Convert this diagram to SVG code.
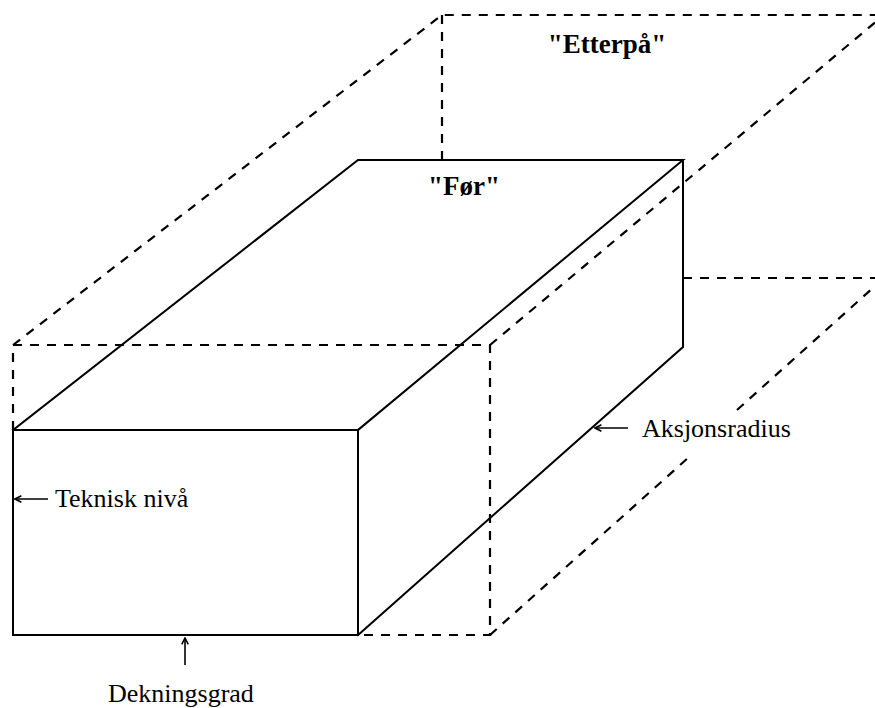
<svg xmlns="http://www.w3.org/2000/svg" width="875" height="708" viewBox="0 0 875 708">
  <defs>
    <style>
      .solid { fill: none; stroke: #000; stroke-width: 2; stroke-linejoin: miter; stroke-linecap: square; }
      .dash { fill: none; stroke: #000; stroke-width: 2.2; stroke-dasharray: 9 8; }
      .arrow { fill: none; stroke: #000; stroke-width: 1.6; marker-end: url(#head); }
      .lbl { font-family: 'Liberation Serif', 'DejaVu Serif', 'Times New Roman', serif; font-size: 26px; fill: #000; }
      .title { font-family: 'Liberation Serif', 'DejaVu Serif', 'Times New Roman', serif; font-size: 27px; font-weight: bold; fill: #000; text-anchor: middle; }
    </style>
    <marker id="head" viewBox="0 0 10 10" refX="9" refY="5" markerWidth="8" markerHeight="8" markerUnits="userSpaceOnUse" orient="auto">
      <path d="M1,1 L9,5 L1,9" fill="none" stroke="#000" stroke-width="2"/>
    </marker>
  </defs>
  <rect width="875" height="708" fill="#fff"/>

  <g id="box-etterpa">
    <path class="dash" d="M13,430 L13,345 L490,345 L490,635 L358,635"/>
    <path class="dash" d="M13,345 L442,15 L884,15"/>
    <path class="dash" d="M442,15 L442,160"/>
    <path class="dash" d="M490,345 L884,15"/>
    <path class="dash" d="M683,278 L884,278"/>
    <path class="dash" d="M490,635 L688,458"/>
    <path class="dash" d="M737,410 L884,278"/>
    <text class="title" x="607" y="53">"Etterpå"</text>
  </g>

  <g id="box-for">
    <rect class="solid" x="13" y="430" width="345" height="205"/>
    <path class="solid" d="M13,430 L358,160 L683,160 L358,430"/>
    <path class="solid" d="M683,160 L683,347 L358,635"/>
    <text class="title" x="464" y="195">"Før"</text>
  </g>

  <g id="connectors">
    <line class="arrow" x1="48" y1="499" x2="15" y2="499"/>
    <line class="arrow" x1="185" y1="665" x2="185" y2="638"/>
    <line class="arrow" x1="628" y1="428" x2="595" y2="428"/>
  </g>

  <g id="label-teknisk">
    <text class="lbl" x="55" y="507">Teknisk nivå</text>
  </g>
  <g id="label-dekning">
    <text class="lbl" x="108" y="702">Dekningsgrad</text>
  </g>
  <g id="label-aksjon">
    <text class="lbl" x="642" y="437">Aksjonsradius</text>
  </g>
</svg>
